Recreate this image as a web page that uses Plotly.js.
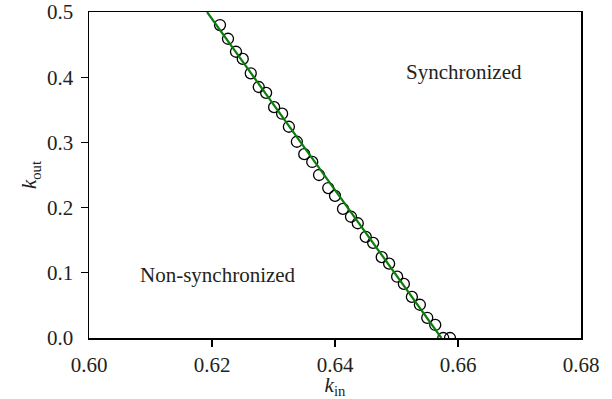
<!DOCTYPE html>
<html>
<head>
<meta charset="utf-8">
<script src="https://cdn.plot.ly/plotly-3.0.1.min.js"></script>
<style>html,body{margin:0;padding:0;background:#fff}#chart{width:612px;height:399px}</style>
</head>
<body>
<div id="chart"></div>
<script>
const kinPoints = [0.6213,0.6226,0.6239,0.6250,0.6263,0.6276,0.6288,0.6301,0.6314,0.6325,0.6338,0.6350,0.6363,0.6374,0.6389,0.6400,0.6413,0.6426,0.6437,0.6450,0.6462,0.6476,0.6488,0.6501,0.6512,0.6525,0.6538,0.6550,0.6563,0.6576,0.6587];
const koutPoints = [0.480,0.459,0.439,0.428,0.406,0.385,0.376,0.354,0.344,0.324,0.301,0.282,0.270,0.250,0.230,0.218,0.198,0.186,0.176,0.155,0.146,0.124,0.114,0.094,0.083,0.063,0.051,0.031,0.020,0.0,0.0];
const kinLine = [0.6192, 0.6573];
const koutLine = [0.5, 0.0];
const xTicks = [0.60, 0.62, 0.64, 0.66, 0.68];
const xTickLabels = ["0.60", "0.62", "0.64", "0.66", "0.68"];
const yTicks = [0.0, 0.1, 0.2, 0.3, 0.4, 0.5];
const yTickLabels = ["0.0", "0.1", "0.2", "0.3", "0.4", "0.5"];
const xMarkTicks = [0.62, 0.64, 0.66];
const yMarkTicks = [0.1, 0.2, 0.3, 0.4];
const regionLabels = ["Synchronized", "Non-synchronized"];
const regionX = [0.6610, 0.6210];
const regionY = [0.408, 0.097];

const font = {family: '"Liberation Serif", "Times New Roman", serif', size: 21, color: '#231f20'};

const traces = [
  {x: kinPoints, y: koutPoints, mode: 'markers', type: 'scatter',
   marker: {symbol: 'circle-open', size: 11, color: '#000', line: {width: 1.3, color: '#000'}}},
  {x: kinLine, y: koutLine, mode: 'lines', type: 'scatter',
   line: {color: '#0a7d0a', width: 2.2}}
];

const layout = {
  width: 612, height: 399,
  margin: {l: 89, r: 31, t: 12, b: 61},
  paper_bgcolor: '#fff', plot_bgcolor: '#fff',
  showlegend: false,
  font: font,
  xaxis: {
    range: [0.60, 0.68], tickvals: xTicks, ticktext: xTickLabels,
    ticks: 'outside', ticklen: 7, tickwidth: 1.3, tickcolor: '#000',
    showgrid: false, zeroline: false,
    showline: true, mirror: true, linecolor: '#000', linewidth: 1.5,
    tickfont: font,
    title: {text: '<i>k</i><sub>in</sub>', font: font, standoff: 5}
  },
  yaxis: {
    range: [0.0, 0.5], tickvals: yTicks, ticktext: yTickLabels,
    ticks: 'outside', ticklen: 7, tickwidth: 1.3, tickcolor: '#000',
    showgrid: false, zeroline: false,
    showline: true, mirror: true, linecolor: '#000', linewidth: 1.5,
    tickfont: font, ticklabelstandoff: 3,
    title: {text: '<i>k</i><sub>out</sub>', font: font, standoff: 4}
  },
  annotations: regionLabels.map((t, i) => ({
    x: regionX[i], y: regionY[i], xref: 'x', yref: 'y', text: t,
    showarrow: false, font: font, xanchor: 'center', yanchor: 'middle'
  }))
};

function hideEndTicks() {
  const keep = (vals, v) => vals.some(t => Math.abs(t - v) < 1e-9);
  document.querySelectorAll('path.xtick').forEach(p => {
    const d = p.__data__;
    if (d && typeof d.x === 'number' && !keep(xMarkTicks, d.x)) p.style.display = 'none';
  });
  document.querySelectorAll('path.ytick').forEach(p => {
    const d = p.__data__;
    if (d && typeof d.x === 'number' && !keep(yMarkTicks, d.x)) p.style.display = 'none';
  });
}

Plotly.newPlot('chart', traces, layout, {displayModeBar: false, staticPlot: true}).then(hideEndTicks);
</script>
</body>
</html>
